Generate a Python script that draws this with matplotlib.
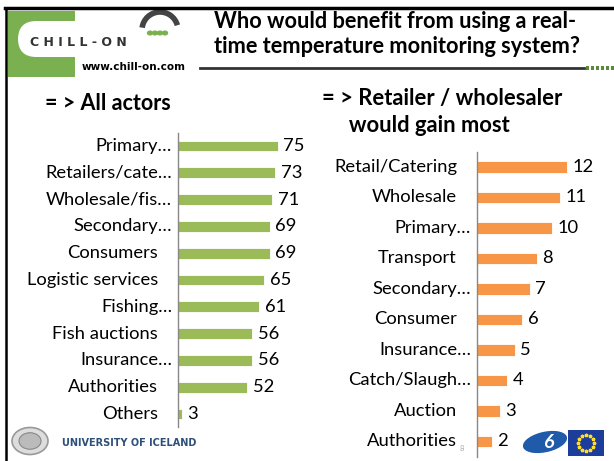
import matplotlib
matplotlib.use("Agg")
import matplotlib.pyplot as plt
from matplotlib.patches import Rectangle, FancyBboxPatch, Circle, Ellipse, Arc
import numpy as np

# ---- data ----
left_labels = ["Primary…", "Retailers/cate…", "Wholesale/fis…", "Secondary…", "Consumers",
               "Logistic services", "Fishing…", "Fish auctions", "Insurance…", "Authorities", "Others"]
left_values = [75, 73, 71, 69, 69, 65, 61, 56, 56, 52, 3]

right_labels = ["Retail/Catering", "Wholesale", "Primary…", "Transport", "Secondary…",
                "Consumer", "Insurance…", "Catch/Slaugh…", "Auction", "Authorities"]
right_values = [12, 11, 10, 8, 7, 6, 5, 4, 3, 2]

title_text = "Who would benefit from using a real-\ntime temperature monitoring system?"
left_heading = "= > All actors"
right_heading = "= > Retailer / wholesaler\n     would gain most"

GREEN = "#9BBB59"
ORANGE = "#F79646"
FONT = ["Lato", "DejaVu Sans"]
plt.rcParams["font.family"] = FONT

W, H = 614, 461
fig = plt.figure(figsize=(W / 100, H / 100), dpi=100)

def fx(x):
    return x / W

def fy(y):
    return 1 - y / H

# ---- slide frame ----
fig.add_artist(plt.Line2D([fx(5), 1], [fy(8), fy(8)], color="black", lw=2.5))
fig.add_artist(plt.Line2D([fx(6), fx(6)], [fy(8), 0], color="black", lw=1.8))

# ---- CHILL-ON logo ----
fig.add_artist(Rectangle((fx(8), fy(77)), fx(75) - fx(8), fy(11) - fy(77), color="#7AB050", lw=0))
fig.add_artist(FancyBboxPatch((fx(18), fy(57)), fx(200) - fx(18), fy(21) - fy(57),
                              boxstyle="round,pad=0,rounding_size=0.03", color="white", lw=0,
                              mutation_aspect=W / H))
fig.text(fx(30), fy(43), "C H I L L - O N", fontsize=9, fontweight="bold", color="#333333",
         family="DejaVu Sans", va="center", ha="left")
fig.add_artist(Arc((fx(160), fy(30)), fx(36), (fy(0) - fy(36)), theta1=20, theta2=170,
                   color="#444444", lw=4))
for k in range(4):
    fig.add_artist(Circle((fx(150 + k * 5), fy(33)), 0.004, color="#7AB050"))
fig.text(fx(82), fy(67), "www.chill-on.com", fontsize=7.5, fontweight="bold", color="black",
         family="DejaVu Sans", va="center", ha="left")

# ---- title ----
fig.text(fx(214), fy(34), title_text, fontsize=15.7, fontweight="bold", color="black",
         va="center", ha="left", linespacing=1.18)
fig.add_artist(plt.Line2D([fx(200), fx(584)], [fy(68), fy(68)], color="#333333", lw=2))
for k in range(6):
    fig.add_artist(Rectangle((fx(586 + k * 5), fy(70)), fx(3), fy(66) - fy(70), color="#5A8A3A", lw=0))

# ---- headings ----
fig.text(fx(45), fy(103), left_heading, fontsize=15.5, fontweight="bold", va="center", ha="left")
fig.text(fx(322), fy(112), right_heading, fontsize=15.8, fontweight="bold", va="center", ha="left",
         linespacing=1.3)

def draw(ax, labels, values, color, xmax, bh):
    y = np.arange(len(labels))
    ax.barh(y, values, height=bh, color=color, edgecolor="white", linewidth=0.6)
    ax.set_ylim(len(labels) - 0.5, -0.5)
    ax.set_xlim(0, xmax)
    ax.set_yticks(y)
    ax.set_yticklabels([])
    ax.tick_params(axis="y", length=0)
    ax.set_xticks([])
    for s in ["top", "right", "bottom"]:
        ax.spines[s].set_visible(False)
    ax.spines["left"].set_color("#888888")
    ax.spines["left"].set_linewidth(1)
    ax.patch.set_alpha(0)
    for yi, lbl in zip(y, labels):
        off = -4.3 if lbl.endswith("…") else -14.4
        ax.annotate(lbl, (0, yi), xycoords=("axes fraction", "data"), xytext=(off, 0),
                    textcoords="offset points", va="center", ha="right", fontsize=13.2,
                    annotation_clip=False)
    for yi, v in zip(y, values):
        ax.annotate(str(v), (v, yi), xytext=(4, 0), textcoords="offset points",
                    va="center", ha="left", fontsize=13.2, annotation_clip=False)

axL = fig.add_axes([fx(178), fy(427.4), fx(133), (427.4 - 132.6) / H])
draw(axL, left_labels, left_values, GREEN, 100, 0.41)

axR = fig.add_axes([fx(477), fy(456.7), fx(120), (456.7 - 151.7) / H])
draw(axR, right_labels, right_values, ORANGE, 16, 0.37)

# ---- University of Iceland ----
fig.add_artist(Circle((fx(30), fy(441)), 18 / W, facecolor="#DDDDDD", edgecolor="#999999", lw=1.2))
fig.add_artist(Circle((fx(30), fy(441)), 11 / W, facecolor="#BBBBBB", edgecolor="#888888", lw=0.8))
fig.text(fx(62), fy(443), "UNIVERSITY OF ICELAND", fontsize=7, fontweight="bold",
         color="#2E4F7A", family="DejaVu Sans", va="center", ha="left")

# ---- page number ----
fig.text(fx(460), fy(448), "8", fontsize=5.5, color="#AAAAAA", va="center", ha="left")

# ---- EU FP6 logos ----
fig.add_artist(Ellipse((fx(545), fy(442)), fx(46), fy(432) - fy(452), angle=20,
                       color="#1F5BA8", lw=0))
fig.text(fx(548), fy(442), "6", fontsize=14, fontweight="bold", style="italic", color="white",
         va="center", ha="center")
fig.add_artist(Rectangle((fx(568), fy(456)), fx(36), fy(430) - fy(456), color="#1D3D9A", lw=0))
ang = np.linspace(0, 2 * np.pi, 13)[:-1]
fig.add_artist(plt.Line2D(fx(586) + 8 / W * np.cos(ang), fy(443) + 8 / H * np.sin(ang),
                          ls="none", marker="*", ms=2.5, color="#FFDD33"))

fig.savefig("out.png", dpi=100)
